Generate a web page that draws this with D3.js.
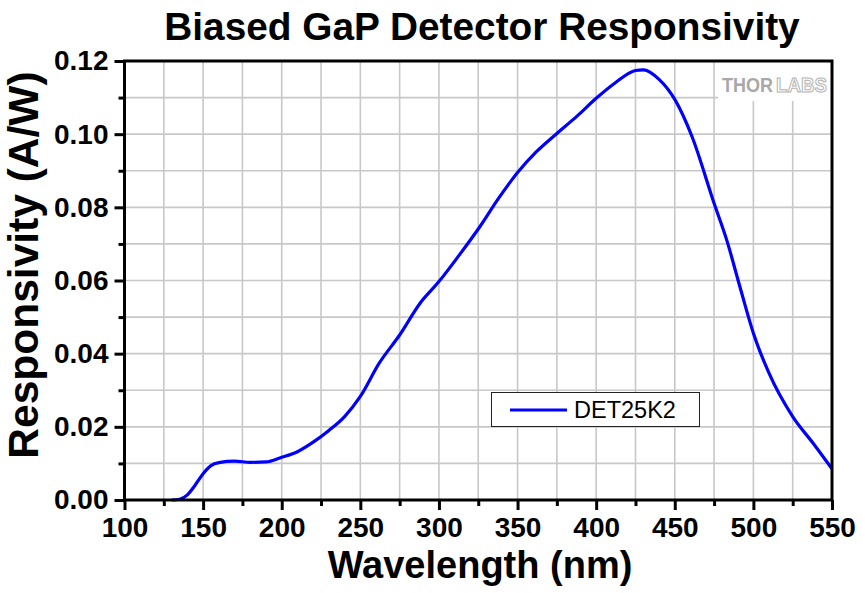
<!DOCTYPE html>
<html><head><meta charset="utf-8">
<script src="https://cdn.jsdelivr.net/npm/d3@7/dist/d3.min.js"></script>
<style>
html,body{margin:0;padding:0;background:#fff;}
svg{display:block;}
text{font-family:"Liberation Sans",Arial,sans-serif;}
</style></head>
<body>
<svg id="chart" width="865" height="593"></svg>
<script>
const wavelength = [130,135,140,145,150,155,160,170,180,190,200,210,220,230,240,250,262,275,288,300,313,326,338,350,362,375,388,400,412,425,430,440,450,461,475,483,492,500,510,525,538,550];
const responsivity = [0,0.0002,0.0014,0.0041,0.0072,0.0094,0.0102,0.0106,0.0103,0.0104,0.0117,0.0132,0.0158,0.0190,0.0228,0.0283,0.0374,0.0451,0.0538,0.0597,0.0670,0.0747,0.0825,0.0895,0.0952,0.1002,0.1050,0.1098,0.1140,0.1174,0.1176,0.1150,0.1095,0.0993,0.0811,0.0711,0.0574,0.0456,0.0346,0.0228,0.0155,0.0085];
const xMajorTicks = [100,150,200,250,300,350,400,450,500,550];
const xMinorTicks = [125,175,225,275,325,375,425,475,525];
const yMajorTicks = [0,0.02,0.04,0.06,0.08,0.10,0.12];
const yMinorTicks = [0.01,0.03,0.05,0.07,0.09,0.11];
const seriesName = "DET25K2";
const titleText = "Biased GaP Detector Responsivity";
const xLabel = "Wavelength (nm)";
const yLabel = "Responsivity (A/W)";

const svg = d3.select("#chart");
const L = 124.5, R = 832, T = 61, B = 500;
const x = d3.scaleLinear().domain([100,550]).range([L,R]);
const y = d3.scaleLinear().domain([0,0.12]).range([B,T]);

// grid
const grid = svg.append("g");
const xGrid = d3.range(100,551,25), yGrid = d3.range(0,0.1201,0.01);
grid.selectAll("line.gx").data(xGrid).join("line")
  .attr("x1",d=>x(d)).attr("x2",d=>x(d)).attr("y1",T).attr("y2",B)
  .attr("stroke","#c8c8c8").attr("stroke-width",1.6);
grid.selectAll("line.gy").data(yGrid).join("line")
  .attr("x1",L).attr("x2",R).attr("y1",d=>y(d)).attr("y2",d=>y(d))
  .attr("stroke","#c8c8c8").attr("stroke-width",1.6);

// logo background
svg.append("rect").attr("x",718).attr("y",62).attr("width",113).attr("height",39).attr("fill","#fff");
svg.append("text").attr("x",722).attr("y",92)
  .attr("font-size",21).attr("font-weight","bold")
  .attr("textLength",51).attr("lengthAdjust","spacingAndGlyphs")
  .attr("fill","#a8a8a8").text("THOR");
svg.append("text").attr("x",776).attr("y",92)
  .attr("font-size",21).attr("font-weight","bold")
  .attr("textLength",51).attr("lengthAdjust","spacingAndGlyphs")
  .attr("fill","#fff").attr("stroke","#b4b4b4").attr("stroke-width",1.1).text("LABS");

// curve
const line = d3.line().x((d,i)=>x(wavelength[i])).y(d=>y(d)).curve(d3.curveMonotoneX);
svg.append("path").datum(responsivity).attr("d",line)
  .attr("fill","none").attr("stroke","#0000ff").attr("stroke-width",3.2);

// axes
function styleAxis(g){ g.select(".domain").remove(); g.selectAll("line").attr("stroke","#000").attr("stroke-width",3); }
const xAxis = svg.append("g").attr("transform",`translate(0,${B})`)
  .call(d3.axisBottom(x).tickValues(xMajorTicks).tickSize(10).tickPadding(7).tickFormat(d3.format("d")));
styleAxis(xAxis);
xAxis.selectAll("text").attr("font-size",28).attr("font-weight","bold").attr("fill","#000");
const xAxisMin = svg.append("g").attr("transform",`translate(0,${B})`)
  .call(d3.axisBottom(x).tickValues(xMinorTicks).tickSize(6).tickFormat(""));
styleAxis(xAxisMin);

const yAxis = svg.append("g").attr("transform",`translate(${L},0)`)
  .call(d3.axisLeft(y).tickValues(yMajorTicks).tickSize(10).tickPadding(6).tickFormat(d3.format(".2f")));
styleAxis(yAxis);
yAxis.selectAll("text").attr("font-size",28).attr("font-weight","bold").attr("fill","#000");
const yAxisMin = svg.append("g").attr("transform",`translate(${L},0)`)
  .call(d3.axisLeft(y).tickValues(yMinorTicks).tickSize(6).tickFormat(""));
styleAxis(yAxisMin);

// frame
svg.append("rect").attr("x",L).attr("y",T).attr("width",R-L).attr("height",B-T)
  .attr("fill","none").attr("stroke","#000").attr("stroke-width",3);

// legend
svg.append("rect").attr("x",491.5).attr("y",392.5).attr("width",208).attr("height",34)
  .attr("fill","#fff").attr("stroke","#222").attr("stroke-width",1);
svg.append("line").attr("x1",510).attr("x2",567).attr("y1",410).attr("y2",410)
  .attr("stroke","#0000ff").attr("stroke-width",3.2);
svg.append("text").attr("x",574).attr("y",418).attr("font-size",23.5).attr("fill","#000").text(seriesName);

// titles
svg.append("text").attr("x",482).attr("y",40).attr("text-anchor","middle")
  .attr("font-size",38.8).attr("font-weight","bold").text(titleText);
svg.append("text").attr("x",480).attr("y",578).attr("text-anchor","middle")
  .attr("font-size",38).attr("font-weight","bold").text(xLabel);
svg.append("text").attr("transform","translate(38,265) rotate(-90)").attr("text-anchor","middle")
  .attr("font-size",42.5).attr("font-weight","bold").text(yLabel);
</script>
</body></html>
